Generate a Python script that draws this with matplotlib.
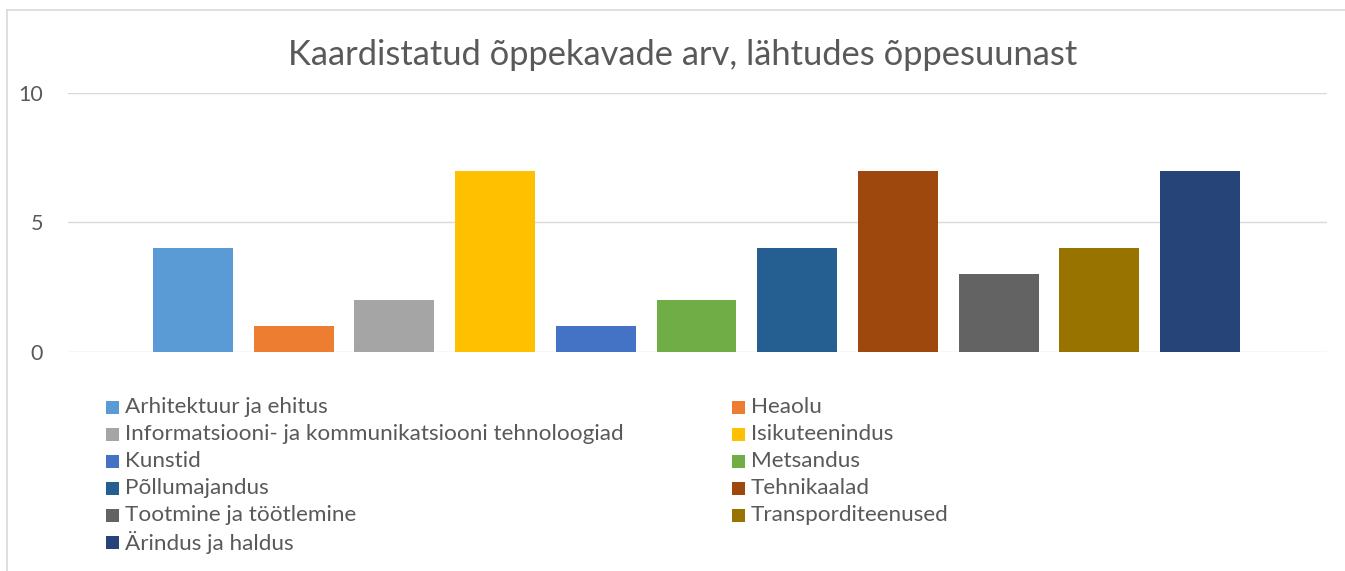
import matplotlib
matplotlib.use("Agg")
import matplotlib.pyplot as plt
from matplotlib.patches import Rectangle
from matplotlib.lines import Line2D

categories = [
    "Arhitektuur ja ehitus", "Heaolu",
    "Informatsiooni- ja kommunikatsiooni tehnoloogiad", "Isikuteenindus",
    "Kunstid", "Metsandus", "Põllumajandus", "Tehnikaalad",
    "Tootmine ja töötlemine", "Transporditeenused", "Ärindus ja haldus",
]
values = [4, 1, 2, 7, 1, 2, 4, 7, 3, 4, 7]
colors = ["#5B9BD5", "#ED7D31", "#A5A5A5", "#FFC000", "#4472C4", "#70AD47",
          "#255E91", "#9E480E", "#636363", "#997300", "#264478"]
yticks = [0, 5, 10]

W, H = 1345, 571
txt = "#595959"
plt.rcParams['font.family'] = ['Lato', 'DejaVu Sans']

fig = plt.figure(figsize=(W / 100, H / 100), dpi=100)
ax = fig.add_axes([68 / W, (H - 351.7) / H, (1327 - 68) / W, (351.7 - 93) / H])

x = list(range(len(values)))
ax.bar(x, values, width=0.794, color=colors, zorder=2)
ax.set_xlim(-1.241, 11.261)
ax.set_ylim(0, 10)
ax.set_yticks(yticks)
ax.set_yticklabels([str(t) for t in yticks])
ax.set_xticks([])
ax.tick_params(axis='y', length=0, pad=18, labelsize=15.5, labelcolor=txt)
for t in yticks:
    ax.axhline(t, color="#D9D9D9", lw=1.0, zorder=1)
for s in ax.spines.values():
    s.set_visible(False)

fig.text(683 / W, 1 - 55 / H, "Kaardistatud õppekavade arv, lähtudes õppesuunast",
         ha='center', va='center', fontsize=24.8, color=txt)

# legend, row-major in two columns
for i, (name, c) in enumerate(zip(categories, colors)):
    col, row = i % 2, i // 2
    x0 = 106 if col == 0 else 732
    yc = 407 + 27 * row
    fig.add_artist(Rectangle((x0 / W, 1 - (yc + 6.5) / H), 13 / W, 13 / H,
                             transform=fig.transFigure, color=c, lw=0))
    fig.text((x0 + 19) / W, 1 - yc / H, name, ha='left', va='center',
             fontsize=16.2, color=txt)

# chart border (cropped)
fig.add_artist(Line2D([7 / W, 7 / W], [0, 1 - 10 / H], transform=fig.transFigure,
                      color="#D9D9D9", lw=1.2))
fig.add_artist(Line2D([7 / W, 1], [1 - 10 / H, 1 - 10 / H], transform=fig.transFigure,
                      color="#D9D9D9", lw=1.2))

fig.savefig("out.png", dpi=100)
